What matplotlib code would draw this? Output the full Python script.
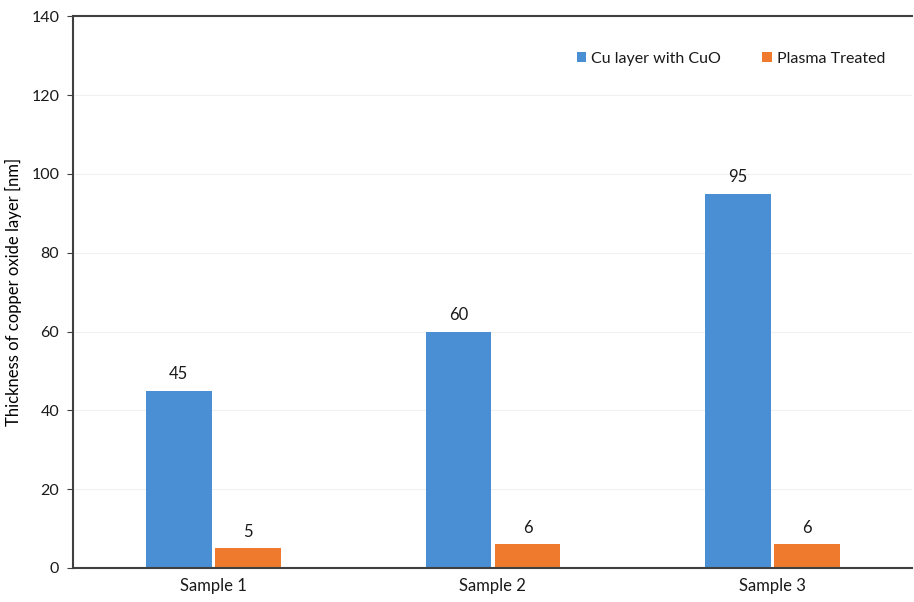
import matplotlib.pyplot as plt
import numpy as np

# data
samples = ['Sample 1', 'Sample 2', 'Sample 3']
cu_layer = [45, 60, 95]
plasma = [5, 6, 6]
series_names = ['Cu layer with CuO', 'Plasma Treated']

plt.rcParams['font.family'] = ['Lato', 'DejaVu Sans']
plt.rcParams['text.color'] = '#1a1a1a'

fig = plt.figure(figsize=(9.14, 6.02), dpi=100)
ax = fig.add_axes([0.080, 0.0565, 0.918, 0.9165])

x = np.arange(len(samples))
w = 0.235
b1 = ax.bar(x - 0.122, cu_layer, w, color='#4a8fd4', label=series_names[0], zorder=2)
b2 = ax.bar(x + 0.125, plasma, w, color='#ef7a2e', label=series_names[1], zorder=2)

for bars, vals in ((b1, cu_layer), (b2, plasma)):
    for r, v in zip(bars, vals):
        ax.text(r.get_x() + r.get_width() / 2, v + 2.2, str(v),
                ha='center', va='bottom', fontsize=12)

ax.set_xlim(-0.5, 2.5)
ax.set_ylim(0, 140)
ax.set_yticks(range(0, 141, 20))
ax.set_xticks(x)
ax.set_xticklabels(samples, fontsize=12)
ax.tick_params(axis='y', labelsize=11.5, length=4, color='#404040', pad=6,
               labelcolor='#1a1a1a')
ax.tick_params(axis='x', length=0, pad=7, labelcolor='#1a1a1a')
ax.set_ylabel('Thickness of copper oxide layer [nm]', fontsize=12, labelpad=7)
ax.yaxis.grid(True, color='#f0f0f0', linewidth=0.8, zorder=0)

for s in ('left', 'bottom', 'top'):
    ax.spines[s].set_color('#404040')
    ax.spines[s].set_linewidth(1.5)
ax.spines['right'].set_visible(False)

ax.legend(loc='upper right', bbox_to_anchor=(0.985, 0.962), ncol=2, frameon=False,
          fontsize=11.5, handlelength=0.6, handleheight=0.6, handletextpad=0.3,
          columnspacing=2.6)

fig.savefig('out.png', dpi=100)
